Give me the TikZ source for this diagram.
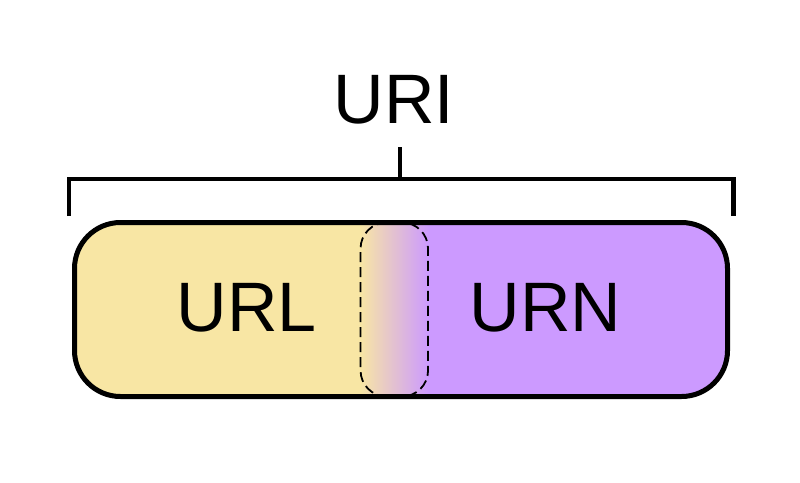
\documentclass[tikz,border=0pt]{standalone}
\usepackage{fontspec}
\setmainfont{Liberation Sans}
\definecolor{urlyellow}{HTML}{F8E6A4}
\definecolor{urnpurple}{HTML}{CC9AFF}
\begin{document}
\begin{tikzpicture}[x=1pt,y=-1pt,
  lbl/.style={font=\fontsize{70}{80}\selectfont, inner sep=0pt, text=black},
  thick line/.style={line width=4.5pt, draw=black},
  overlap/.style={draw=black, line width=1.8pt, dash pattern=on 10pt off 5pt, rounded corners=26pt}]
\useasboundingbox (0,0) rectangle (800,482);
% pill fill
\begin{scope}
  \clip[rounded corners=46pt] (74.5,222.5) rectangle (727.5,396.5);
  \fill[urlyellow] (70,215) rectangle (360.5,405);
  \fill[urnpurple] (428,215) rectangle (735,405);
  \shade[left color=urlyellow, right color=urnpurple] (360,215) rectangle (428.5,405);
\end{scope}
\node[draw=none, minimum width=653pt, minimum height=174pt, inner sep=0pt] (pill) at (401,309.5) {};
\draw[thick line, line width=5pt, rounded corners=46pt] (74.5,222.5) rectangle (727.5,396.5);
% overlap region
\node[overlap, minimum width=67.5pt, minimum height=174pt, inner sep=0pt] (overlapzone) at (394.3,309.5) {};
% bracket
\coordinate (bl) at (69,216);
\coordinate (blt) at (69,179);
\coordinate (brt) at (733.5,179);
\coordinate (br) at (733.5,216);
\coordinate (tickbot) at (400,179);
\coordinate (ticktop) at (400,147);
\draw[thick line, line cap=butt, line join=miter] (bl) -- (blt) -- (brt) -- (br);
\draw[thick line, line cap=butt] (tickbot) -- (ticktop);
% labels
\node[lbl, anchor=base] (uri) at (394,123) {URI};
\node[lbl, anchor=base] (url) at (246.5,331) {URL};
\node[lbl, anchor=base] (urn) at (545.5,331) {URN};
\end{tikzpicture}
\end{document}
